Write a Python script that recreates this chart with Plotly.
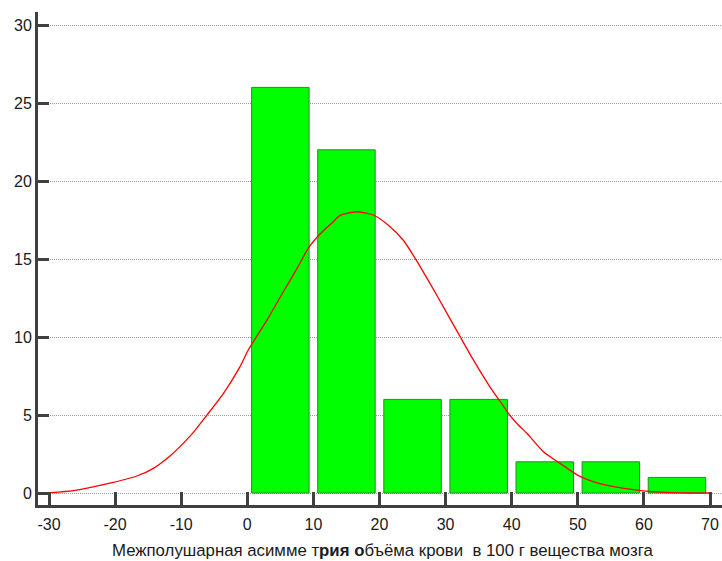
import plotly.graph_objects as go

# Histogram data (bin centers and counts)
bin_centers = [5, 15, 25, 35, 45, 55, 65]
counts = [26, 22, 6, 6, 2, 2, 1]

# Fitted curve
curve_x = [-29.85, -26.3, -21.3, -16.7, -14.2, -11.7, -9.7, -8.2, -6.1, -3.6, -1.1,
           0.15, 3.0, 5.45, 7.47, 9.23, 11.0, 13.0, 14.0, 16.55, 19.06, 21.3, 23.6,
           25.4, 28.65, 32.2, 34.2, 36.7, 38.2, 39.5, 41.0, 42.3, 43.6, 44.8, 47.3, 50.1,
           52.3, 55.4, 58.9, 62.4, 67.0, 70.0]
curve_y = [0.02, 0.15, 0.58, 1.09, 1.58, 2.37, 3.18, 3.87, 5.0, 6.39, 8.1,
           9.17, 11.1, 12.9, 14.35, 15.69, 16.6, 17.39, 17.78, 18.03, 17.82, 17.18, 16.2,
           15.04, 12.69, 10.02, 8.53, 6.81, 5.9, 5.1, 4.36, 3.83, 3.2, 2.65, 1.90, 1.11,
           0.73, 0.41, 0.19, 0.06, 0.0, 0.0]

x_ticks = [-30, -20, -10, 0, 10, 20, 30, 40, 50, 60, 70]
y_ticks = [0, 5, 10, 15, 20, 25, 30]

fig = go.Figure()
fig.add_trace(go.Bar(
    x=bin_centers, y=counts, width=8.7,
    marker=dict(color="#00ff00", line=dict(color="#2a8a2a", width=1)),
    showlegend=False,
))
fig.add_trace(go.Scatter(
    x=curve_x, y=curve_y, mode="lines", line_shape="spline",
    line=dict(color="#ff0000", width=1.3, smoothing=0.6),
    showlegend=False,
))

axis_col = "#404040"
fig.update_layout(
    width=722, height=561,
    margin=dict(l=38, r=0, t=12, b=56),
    paper_bgcolor="white", plot_bgcolor="white",
    font=dict(family="Liberation Sans, Arial, sans-serif", size=16, color="#1a1a1a"),
    xaxis=dict(
        range=[-31.664, 71.815], tickvals=x_ticks, ticktext=[str(v) for v in x_ticks],
        showgrid=False, zeroline=False, showline=True, linecolor=axis_col, linewidth=3,
        ticks="inside", ticklen=13, tickwidth=2.5, tickcolor=axis_col,
        tickfont=dict(size=16), ticklabelstandoff=3,
    ),
    yaxis=dict(
        range=[-0.769, 30.833], tickvals=y_ticks, ticktext=[str(v) for v in y_ticks],
        showgrid=True, gridcolor="#9a9a9a", gridwidth=1, griddash="1px,1px",
        zeroline=False, showline=True, linecolor=axis_col, linewidth=3,
        ticks="inside", ticklen=11, tickwidth=2.5, tickcolor=axis_col,
        tickfont=dict(size=16),
    ),
    annotations=[dict(
        text="Межполушарная асимме т<b>рия о</b>бъёма крови  в 100 г вещества мозга",
        xref="paper", yref="paper", x=0.503, y=-0.0913,
        xanchor="center", yanchor="middle", showarrow=False,
        font=dict(size=16.8, color="#1a1a1a"),
    )],
)

fig.write_html("out.html")
